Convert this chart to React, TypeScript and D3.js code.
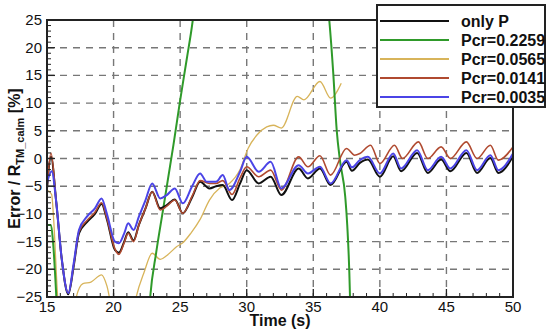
import * as d3 from 'd3'

type Pt = [number, number]

// time (s), error (%)
const onlyP: Pt[] = [
  [15.0, -5.5], [15.3, 0.3], [15.7, -8], [16.1, -18], [16.6, -24.5], [17.0, -19.5], [17.4, -13.5],
  [18.0, -11.5], [18.6, -10], [19.1, -8.2], [19.5, -11], [20.1, -16.5], [20.4, -17], [20.8, -15],
  [21.1, -13.3], [21.5, -14.8], [21.9, -12], [22.4, -9], [22.9, -6], [23.5, -9], [24.0, -8.4],
  [24.6, -7.4], [25.2, -9.9], [25.9, -7], [26.5, -4.2], [27.2, -5.4], [27.7, -5], [28.2, -4.8],
  [28.9, -7.5], [29.5, -4.5], [30.0, -2.1], [30.9, -4.5], [31.8, -3.3], [32.6, -6.6], [33.9, -1.8],
  [34.6, -3.6], [35.5, -1.8], [36.3, -4.8], [37.5, -0.6], [37.9, -2.2], [38.5, -0.8], [39.1, -0.2],
  [40.0, -3.3], [41.0, 0.4], [41.6, -2.3], [42.8, 1.0], [43.6, -2.6], [44.6, -0.2], [45.3, -2.3],
  [46.5, 1.0], [47.3, -2.6], [48.3, 0.1], [48.9, -2.6], [50.0, 0.4]
]

const pcr2259: Pt[] = [
  [15.0, -12], [15.3, -12], [15.45, -15], [15.7, -25], [15.8, -30],
  [22.6, -30], [22.75, -25], [23.2, -17], [23.7, -9.5], [24.1, -3.5], [24.5, 2.5], [25.0, 10.5],
  [25.5, 18], [25.95, 25], [26.1, 28],
  [36.0, 30], [36.2, 25], [36.5, 15.4], [36.76, 5.1], [37.0, -0.3], [37.4, -6.9], [37.55, -12],
  [37.75, -24.3], [37.8, -30]
]

const pcr0565: Pt[] = [
  [15.0, -5.7], [15.35, -6.5], [15.5, -11], [15.8, -25], [16.0, -30], [16.9, -30], [17.2, -25],
  [17.7, -22.6], [18.3, -22.3], [19.1, -21], [19.5, -23], [19.8, -26], [21.3, -30], [21.7, -25],
  [22.3, -20.5], [22.9, -17.1], [23.5, -18.2], [24.0, -17.5], [24.75, -15.9], [25.2, -15.2],
  [25.8, -13.5], [26.5, -11], [27.2, -7.5], [28.0, -5.3], [28.7, -4.5], [29.5, -2], [30.1, 1.8],
  [30.75, 4.2], [31.5, 5.7], [32.0, 6], [32.6, 5.5], [33.8, 11.2], [34.3, 10.6], [35.5, 13.9],
  [36.3, 10.9], [37.1, 13.6]
]

const pcr0141: Pt[] = [
  [15.0, -5.5], [15.3, 1.0], [15.7, -8], [16.1, -18], [16.6, -24.3], [17.0, -19.3], [17.4, -13.2],
  [18.0, -11.2], [18.6, -9.7], [19.1, -8], [19.5, -10.8], [20.1, -16.3], [20.4, -17.3], [20.8, -15.2],
  [21.1, -13.5], [21.5, -15], [21.9, -12], [22.4, -9], [22.9, -6], [23.5, -9.3], [24.0, -8.6],
  [24.6, -7.5], [25.2, -9.9], [25.9, -6.8], [26.5, -4], [27.2, -4.5], [27.7, -4.5], [28.2, -4],
  [28.9, -6.5], [29.5, -3.5], [30.0, -1.5], [30.9, -3.3], [31.8, -2.1], [32.6, -5.7], [33.9, 0.3],
  [34.6, -1.5], [35.5, 0.5], [36.3, -3], [37.5, 1.8], [38.1, 0.6], [38.5, 0.9], [39.3, 2.4],
  [40.0, -0.9], [41.1, 2.4], [41.7, 0], [42.9, 3], [43.6, 0], [44.6, 2.1], [45.3, 0], [46.5, 3],
  [47.3, 0], [48.3, 2.4], [48.9, -0.3], [50.0, 2.1]
]

const pcr0035: Pt[] = [
  [15.0, -4.4], [15.35, -2.3], [15.7, -8], [16.1, -18], [16.6, -24.3], [17.0, -19], [17.4, -12.9],
  [18.0, -10.5], [18.6, -9], [19.1, -7.2], [19.5, -10], [20.1, -15], [20.4, -15.3], [20.8, -13.5],
  [21.1, -11.7], [21.5, -12.9], [21.9, -10.5], [22.4, -7.5], [22.9, -4.5], [23.5, -7.2], [24.0, -6.6],
  [24.6, -5.4], [25.2, -8.1], [25.9, -5.0], [26.5, -2.7], [27.0, -4.2], [27.7, -4.2], [28.2, -3],
  [28.7, -5.7], [29.5, -2.4], [30.0, 0.3], [30.9, -2.4], [31.8, -0.6], [32.6, -5.4], [33.9, -1.2],
  [34.6, -2.7], [35.5, -1.5], [36.3, -4.5], [37.5, -0.3], [37.9, -1.6], [38.5, -0.3], [39.1, 0.3],
  [40.0, -2.7], [41.0, 0.9], [41.6, -1.8], [42.8, 1.5], [43.6, -2.1], [44.6, 0.3], [45.3, -1.8],
  [46.5, 1.5], [47.3, -2.1], [48.3, 0.6], [48.9, -2.1], [50.0, 0.9]
]

const xTicks = [15, 20, 25, 30, 35, 40, 45, 50]
const yTicks = [-25, -20, -15, -10, -5, 0, 5, 10, 15, 20, 25]

const series = [
  { name: 'Pcr=0.0565', data: pcr0565, color: '#d8b45a', width: 1.3 },
  { name: 'Pcr=0.2259', data: pcr2259, color: '#2f9a2a', width: 2 },
  { name: 'only P', data: onlyP, color: '#111111', width: 2 },
  { name: 'Pcr=0.0141', data: pcr0141, color: '#b04a30', width: 1.6 },
  { name: 'Pcr=0.0035', data: pcr0035, color: '#4b44e6', width: 2 }
]
const legendOrder = ['only P', 'Pcr=0.2259', 'Pcr=0.0565', 'Pcr=0.0141', 'Pcr=0.0035']

export default function App() {
  const W = 550
  const H = 333
  const m = { left: 47, right: 513, top: 20, bottom: 297 }
  const x = d3.scaleLinear().domain([15, 50]).range([m.left, m.right])
  const y = d3.scaleLinear().domain([-25, 25]).range([m.bottom, m.top])
  const line = d3.line<Pt>().x(d => x(d[0])).y(d => y(d[1])).curve(d3.curveMonotoneX)

  const minorX = d3.range(15, 51, 1).filter(v => v % 5 !== 0)
  const minorY = d3.range(-25, 26, 1).filter(v => v % 5 !== 0)
  const font = '"Liberation Sans", Arial, sans-serif'
  const lg = { x0: 377, x1: 545, y0: 5, y1: 107 }
  const rowY = d3.scalePoint<string>().domain(legendOrder).range([21, 97])

  return (
    <svg width={W} height={H} style={{ position: 'absolute', left: 0, top: 0, background: '#fff' }} fontFamily={font}>
      <defs>
        <clipPath id="plot">
          <rect x={m.left} y={m.top} width={m.right - m.left} height={m.bottom - m.top} />
        </clipPath>
      </defs>
      {xTicks.slice(1, -1).map(v => (
        <line key={'gx' + v} x1={x(v)} x2={x(v)} y1={m.top} y2={m.bottom} stroke="#777" strokeWidth={1.4} strokeDasharray="7,6" />
      ))}
      {yTicks.slice(1, -1).map(v => (
        <line key={'gy' + v} x1={m.left} x2={m.right} y1={y(v)} y2={y(v)} stroke="#777" strokeWidth={1.4} strokeDasharray="7,6" />
      ))}
      <g clipPath="url(#plot)">
        {series.map(s => (
          <path key={s.name} d={line(s.data) ?? ''} fill="none" stroke={s.color} strokeWidth={s.width} strokeLinejoin="round" />
        ))}
      </g>
      {minorX.map(v => (
        <line key={'mx' + v} x1={x(v)} x2={x(v)} y1={m.bottom} y2={m.bottom - 4} stroke="#222" strokeWidth={1} />
      ))}
      {xTicks.map(v => (
        <line key={'tx' + v} x1={x(v)} x2={x(v)} y1={m.bottom} y2={m.bottom - 8} stroke="#222" strokeWidth={1.3} />
      ))}
      {minorY.map(v => (
        <line key={'my' + v} x1={m.left} x2={m.left + 4} y1={y(v)} y2={y(v)} stroke="#222" strokeWidth={1} />
      ))}
      {yTicks.map(v => (
        <line key={'ty' + v} x1={m.left} x2={m.left + 8} y1={y(v)} y2={y(v)} stroke="#222" strokeWidth={1.3} />
      ))}
      <path
        d={`M${lg.x0},${m.top}H${m.left}V${m.bottom}H${m.right}V${lg.y1}`}
        fill="none" stroke="#222" strokeWidth={2}
      />
      {xTicks.map(v => (
        <text key={'lx' + v} x={x(v)} y={m.bottom + 15} textAnchor="middle" fontSize={15} fill="#111">{v}</text>
      ))}
      {yTicks.map(v => (
        <text key={'ly' + v} x={m.left - 5} y={y(v) + 5} textAnchor="end" fontSize={15} fill="#111">{v < 0 ? '\u2212' + Math.abs(v) : v}</text>
      ))}
      <text x={280} y={326} textAnchor="middle" fontSize={16} fontWeight="bold" fill="#111">Time (s)</text>
      <text transform={`translate(20,${(m.top + m.bottom) / 2}) rotate(-90)`} textAnchor="middle" fontSize={16} fontWeight="bold" fill="#111">
        Error / R<tspan fontSize={11} dy={4}>TM_calm</tspan><tspan dy={-4}> [%]</tspan>
      </text>
      <rect x={lg.x0} y={lg.y0} width={lg.x1 - lg.x0} height={lg.y1 - lg.y0} fill="#fff" stroke="#222" strokeWidth={2} />
      {legendOrder.map(n => {
        const s = series.find(d => d.name === n)!
        const ry = rowY(n)!
        return (
          <g key={'lg' + n}>
            <line x1={380} x2={449} y1={ry} y2={ry} stroke={s.color} strokeWidth={2} />
            <text x={461} y={ry + 5.5} fontSize={16} fontWeight="bold" fill="#111">{n}</text>
          </g>
        )
      })}
    </svg>
  )
}
